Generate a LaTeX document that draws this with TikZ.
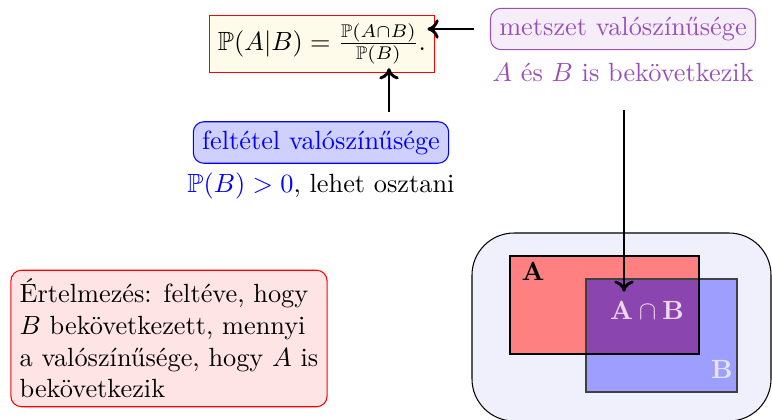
\documentclass[tikz,border=0pt]{standalone}
\usepackage{amsmath,amssymb}
\usepackage{xcolor}
\usetikzlibrary{arrows.meta, positioning}

\definecolor{kepletfill}{RGB}{255,251,235}
\definecolor{lila}{RGB}{155,80,185}
\definecolor{lilafill}{RGB}{245,237,248}
\definecolor{kekfill}{RGB}{208,208,255}
\definecolor{pirosfill}{RGB}{255,228,230}
\definecolor{univfill}{RGB}{240,240,253}
\definecolor{halmazA}{RGB}{255,128,128}
\definecolor{halmazB}{RGB}{158,158,255}
\definecolor{metszetfill}{RGB}{139,69,174}

\begin{document}
\begin{tikzpicture}[
    x=0.38pt, y=-0.38pt,
    node distance=1.5pt,
    keplet/.style={rectangle, draw=red, fill=kepletfill},
    cimke/.style={rectangle, draw, rounded corners, align=center},
    arrow/.style={-{To[length=1.5mm, width=2.6mm]}, line width=1.1pt},
]
    \useasboundingbox (0,0) rectangle (772,419);

    \node[keplet] (formula) at (322,44) {$\mathbb{P}(A|B) = \frac{\mathbb{P}(A\cap B)}{\mathbb{P}(B)}.$};

    \node[cimke, draw=lila, fill=lilafill, text=lila] (metszet) at (623,29) {metszet valószínűsége};
    \node[text=lila, below=of metszet] (metszetszov) {$A$ és $B$ is bekövetkezik};

    \node[cimke, draw=blue, fill=kekfill, text=blue] (feltetel) at (321,142.5) {feltétel valószínűsége};
    \node[below=0pt of feltetel] (feltszov) {{\color{blue}$\mathbb{P}(B) > 0$}, lehet osztani};

    \node[cimke, draw=red, fill=pirosfill, align=left] (ertelm) at (169,338.5) {Értelmezés: feltéve, hogy\\ $B$ bekövetkezett, mennyi\\ a valószínűsége, hogy $A$ is\\ bekövetkezik};

    % halmazok
    \draw[fill=univfill, rounded corners=16pt] (472,233) rectangle (771,421);
    \fill[halmazA] (510,256) rectangle (699,354);
    \fill[halmazB] (586,279) rectangle (737,392);
    \begin{scope}
        \clip (510,256) rectangle (699,354);
        \fill[metszetfill] (586,279) rectangle (737,392);
    \end{scope}
    \draw[black!75] (586,279) rectangle (737,392);
    \draw (510,256) rectangle (699,354);

    \node (cimkeA) at (533,271) {$\mathbf{A}$};
    \node[text=white!90!blue] (cimkeB) at (722,369) {$\mathbf{B}$};
    \node[text=white!85!violet] (cimkeAB) at (647,310) {$\mathbf{A}\cap\mathbf{B}$};

    \coordinate (feltnyil) at (389,112);
    \coordinate (metsznyil) at (624,110);

    \draw[arrow, shorten <=6pt, shorten >=-3pt] (metszet.west) -- (metszet.west -| formula.east);
    \draw[arrow, shorten >=-2pt] (feltnyil) -- (feltnyil |- formula.south);
    \draw[arrow] (metsznyil) -- (metsznyil |- cimkeAB.north);
\end{tikzpicture}
\end{document}
